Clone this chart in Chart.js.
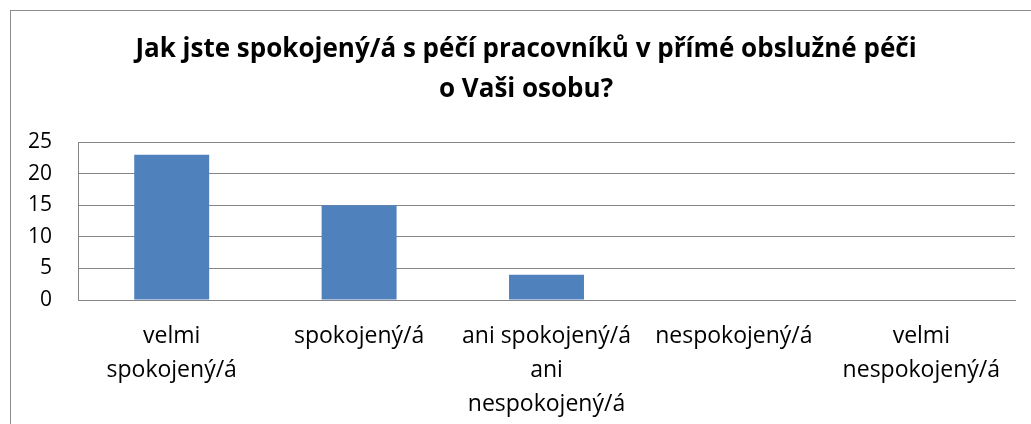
<!DOCTYPE html>
<html>
<head>
<meta charset="utf-8">
<script src="https://cdn.jsdelivr.net/npm/chart.js@4"></script>
<style>
  html, body { margin: 0; padding: 0; background: #fff; overflow: hidden; }
  #wrap { position: relative; width: 1031px; height: 424px; overflow: hidden; }
  #chart-pece { position: absolute; left: 0; top: 0; }
  #ramecek {
    position: absolute; left: 10px; top: 10px; width: 1100px; height: 500px;
    border-left: 1px solid #8c8c8c; border-top: 1px solid #8c8c8c;
    pointer-events: none;
  }
</style>
</head>
<body>
<div id="wrap">
  <canvas id="chart-pece"></canvas>
  <div id="ramecek"></div>
</div>
<script>
const titulek = ['Jak jste spokojený/á s péčí pracovníků v přímé obslužné péči', 'o Vaši osobu?'];
const kategorie = [
    ['velmi', 'spokojený/á'],
    'spokojený/á',
    ['ani spokojený/á', 'ani', 'nespokojený/á'],
    'nespokojený/á',
    ['velmi', 'nespokojený/á']
];
const pocty = [23, 15, 4, 0, 0];
const osaY = [0, 5, 10, 15, 20, 25];

const chartDom = document.querySelector('#chart-pece');
chartDom.width = 1031;
chartDom.height = 424;
chartDom.style.width = '1031px';
chartDom.style.height = '424px';

const pismo = "'Open Sans', sans-serif";

const config = {
    type: 'bar',
    data: {
        labels: kategorie,
        datasets: [{
            data: pocty,
            backgroundColor: '#4F81BD',
            barPercentage: 0.4,
            categoryPercentage: 1
        }]
    },
    options: {
        responsive: false,
        animation: false,
        layout: { padding: { left: 27, right: 6, top: 0, bottom: 0 } },
        plugins: {
            legend: { display: false },
            tooltip: { enabled: false },
            title: {
                display: true,
                text: titulek,
                color: '#000',
                font: { family: pismo, size: 26, weight: 'bold', lineHeight: '40px' },
                padding: { top: 30, bottom: 32 }
            }
        },
        scales: {
            x: {
                grid: { display: false, drawTicks: false },
                border: { display: true, color: '#868686', width: 1 },
                ticks: {
                    color: '#000',
                    font: { family: pismo, size: 23, lineHeight: '34px' },
                    padding: 19,
                    maxRotation: 0,
                    autoSkip: false
                },
                afterFit: (osa) => { osa.height = 124; }
            },
            y: {
                min: 0,
                max: 25,
                afterBuildTicks: (osa) => { osa.ticks = osaY.map((v) => ({ value: v })); },
                grid: { color: '#868686', lineWidth: 1, drawTicks: false },
                border: { display: true, color: '#868686', width: 1 },
                ticks: {
                    color: '#000',
                    font: { family: pismo, size: 21 },
                    padding: 26
                },
                afterFit: (osa) => { osa.width = 51; }
            },
            // prazdna osa vpravo, jen kvuli odsazeni
            yPravo: {
                position: 'right',
                display: true,
                grid: { display: false, drawTicks: false },
                border: { display: false },
                ticks: { display: false },
                afterFit: (osa) => { osa.width = 10; }
            }
        }
    }
};

new Chart(chartDom, config);
</script>
</body>
</html>
